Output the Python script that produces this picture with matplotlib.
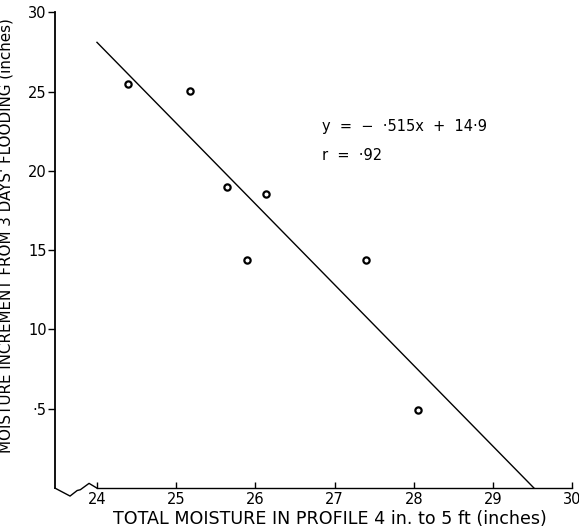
import matplotlib
matplotlib.use('Agg')
import matplotlib.pyplot as plt
import numpy as np

plt.rcParams['font.family'] = ['DejaVu Sans']

# data
total_moisture = [24.39, 25.17, 25.64, 26.14, 25.89, 27.40, 28.05]
increment = [25.5, 25.05, 19.0, 18.55, 14.35, 14.35, 4.95]

# fitted line end points as drawn
line_x = [24.0, 29.52]
line_y = [28.1, 0.0]

x_ticks = [24, 25, 26, 27, 28, 29, 30]
y_ticks = [5, 10, 15, 20, 25, 30]
y_ticklabels = ['·5', '10', '15', '20', '25', '30']

fig = plt.figure(figsize=(5.79, 5.30), dpi=100)
ax = fig.add_axes([0.095, 0.079, 0.893, 0.898])

ax.plot(line_x, line_y, color='black', lw=1.0)
ax.plot(total_moisture, increment, 'o', ms=4.5, mfc='white', mec='black', mew=1.6)

ax.set_xlim(23.47, 30)
ax.set_ylim(0, 30)

ax.spines['top'].set_visible(False)
ax.spines['right'].set_visible(False)
ax.spines['left'].set_linewidth(1.3)
ax.spines['bottom'].set_linewidth(1.0)
ax.spines['bottom'].set_bounds(24, 30)

ax.set_xticks(x_ticks)
ax.set_yticks(y_ticks)
ax.set_yticklabels(y_ticklabels)
ax.tick_params(axis='y', direction='out', length=5, width=1.0, labelsize=10.5, pad=1)
ax.tick_params(axis='x', direction='in', length=4, width=1.0, labelsize=10.5, pad=3)

# axis break squiggle near origin
ax.plot([23.47, 23.66, 23.75, 23.79, 23.9, 24.0],
        [0, -0.5, -0.15, -0.1, 0.3, 0],
        color='black', lw=1.0, clip_on=False)

ax.set_xlabel('TOTAL MOISTURE IN PROFILE 4 in. to 5 ft (inches)', fontsize=12.6)
ax.xaxis.set_label_coords(0.532, -0.045)
ax.set_ylabel("MOISTURE INCREMENT FROM 3 DAYS' FLOODING (inches)", fontsize=10.9)
ax.yaxis.set_label_coords(-0.08, 0.53)

ax.text(26.84, 22.5, 'y  =  −  ·515x  +  14·9', fontsize=10.5)
ax.text(26.84, 20.7, 'r  =  ·92', fontsize=10.5)

fig.savefig('out.png', dpi=100)
